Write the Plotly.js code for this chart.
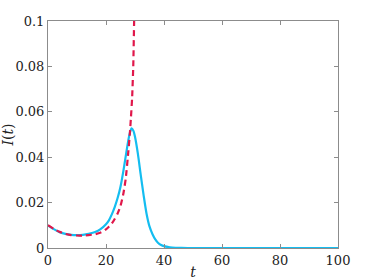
<!DOCTYPE html>
<html>
<head>
<meta charset="utf-8">
<script src="https://cdn.plot.ly/plotly-3.0.1.min.js"></script>
<style>html,body{margin:0;padding:0;background:#fff;}#chart{width:374px;height:280px;}</style>
</head>
<body>
<div id="chart"></div>
<script>
// Blue solid curve I(t)
const tBlue = [0,2,4,6,8,10,12,14,16,18,20,21,22,23,24,25,26,27,28,28.8,29.5,30,31,32,33,34,35,36,37,38,39,40,42,44,46,50,60,70,80,90,100];
const iBlue = [0.0100,0.0083,0.0070,0.0062,0.0058,0.0057,0.0058,0.0062,0.0069,0.0082,0.0105,0.0122,0.0148,0.0180,0.0220,0.0270,0.0340,0.0420,0.0495,0.0527,0.0515,0.0490,0.0415,0.0320,0.0230,0.0150,0.0095,0.0062,0.0038,0.0022,0.0013,0.0008,0.0003,0.0001,0.00003,0,0,0,0,0,0];
// Red dashed curve I(t) (blows up)
const tRed = [0,2,4,6,8,10,12,14,16,18,19,20,21,22,23,24,25,26,26.8,27.7,28.2,28.6,29.0,29.4,29.7,29.9];
const iRed = [0.0100,0.0084,0.0071,0.0062,0.0057,0.0055,0.0055,0.0057,0.0060,0.0067,0.0073,0.0082,0.0094,0.0108,0.0128,0.0152,0.0185,0.0240,0.0305,0.0425,0.0500,0.0575,0.0660,0.0800,0.1000,0.1150];
const xTicks = [0,20,40,60,80,100];
const xTickText = ["0","20","40","60","80","100"];
const yTicks = [0,0.02,0.04,0.06,0.08,0.1];
const yTickText = ["0","0.02","0.04","0.06","0.08","0.1"];

const traces = [
  {x: tBlue, y: iBlue, mode: 'lines', line: {color: '#14BDF0', width: 2.2, shape: 'spline', smoothing: 0.7}, hoverinfo: 'skip'},
  {x: tRed, y: iRed, mode: 'lines', line: {color: '#E0174A', width: 2.2, dash: '6px,4px', shape: 'spline', smoothing: 0.5}, hoverinfo: 'skip'}
];
const fontFam = "DejaVu Serif";
const axisCommon = {
  showgrid: false, zeroline: false, showline: true, linecolor: '#8c8c8c', linewidth: 1,
  mirror: 'allticks', ticks: 'inside', ticklen: 4, tickcolor: '#8c8c8c',
  tickfont: {family: fontFam, size: 13, color: '#222'}
};
const layout = {
  width: 374, height: 280,
  margin: {l: 48, r: 36, t: 21, b: 32},
  showlegend: false,
  paper_bgcolor: '#fff', plot_bgcolor: '#fff',
  font: {family: fontFam},
  xaxis: Object.assign({}, axisCommon, {
    range: [0, 100], tickvals: xTicks, ticktext: xTickText,
    title: {text: '<i>t</i>', font: {family: fontFam, size: 14, color: '#222'}, standoff: 0}
  }),
  yaxis: Object.assign({}, axisCommon, {
    range: [0, 0.1], tickvals: yTicks, ticktext: yTickText,
    title: {text: '<i>I</i>(<i>t</i>)', font: {family: fontFam, size: 14, color: '#222'}, standoff: 2}
  })
};
Plotly.newPlot('chart', traces, layout, {staticPlot: true, displayModeBar: false});
</script>
</body>
</html>
